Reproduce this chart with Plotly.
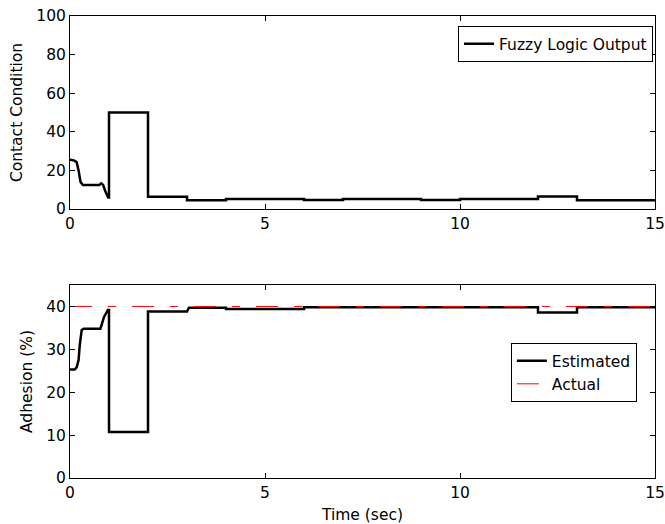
import plotly.graph_objects as go
from plotly.subplots import make_subplots

# Contact condition from the fuzzy logic block
t_fuzzy = [0, 0.1, 0.17, 0.22, 0.27, 0.33, 0.5, 0.75, 0.8, 0.85, 0.9, 0.95, 0.98, 1.0,
           1.0, 2.0, 2.0, 3.0, 3.0, 4.0, 4.0, 6.0, 6.0, 7.0, 7.0, 9.0, 9.0, 10.0,
           10.0, 12.0, 12.0, 13.0, 13.0, 15.0]
fuzzy_out = [25.5, 25.2, 24.3, 20.0, 14.0, 12.4, 12.4, 12.4, 13.3, 12.5, 9.5, 7.0, 6.0, 6.0,
             50.0, 50.0, 6.3, 6.3, 4.5, 4.5, 5.2, 5.2, 4.6, 4.6, 5.2, 5.2, 4.6, 4.6,
             5.2, 5.2, 6.5, 6.5, 4.5, 4.5]

# Adhesion: estimated vs actual
t_est = [0, 0.12, 0.17, 0.22, 0.25, 0.28, 0.3, 0.35, 0.5, 0.78, 0.82, 0.87, 0.92, 0.97, 1.0,
         1.0, 2.0, 2.0, 3.0, 3.05, 4.0, 4.0, 6.0, 6.0, 12.0, 12.0, 13.0, 13.0, 15.0]
adh_est = [25.3, 25.3, 25.8, 27.5, 31.0, 33.0, 34.5, 34.8, 34.8, 34.8, 36.0, 37.5, 38.3, 39.2, 39.2,
           10.7, 10.7, 38.8, 38.8, 39.7, 39.7, 39.4, 39.4, 39.8, 39.8, 38.6, 38.6, 39.8, 39.8]
t_act = [0, 15]
adh_act = [40, 40]

x_ticks = [0, 5, 10, 15]
top_ticks = [0, 20, 40, 60, 80, 100]
bot_ticks = [0, 10, 20, 30, 40]

FONT = "DejaVu Sans, Arial, sans-serif"
FS = 15.5
txt = dict(family=FONT, size=FS, color="black")

fig = make_subplots(rows=2, cols=1, vertical_spacing=0.1645)

fig.add_trace(go.Scatter(x=t_fuzzy, y=fuzzy_out, mode="lines", name="Fuzzy Logic Output",
                         line=dict(color="black", width=2.5), legend="legend", showlegend=True),
              row=1, col=1)
fig.add_trace(go.Scatter(x=t_est, y=adh_est, mode="lines", name="Estimated",
                         line=dict(color="black", width=2.5), legend="legend2"),
              row=2, col=1)
fig.add_trace(go.Scatter(x=t_act, y=adh_act, mode="lines", name="Actual",
                         line=dict(color="#ff0000", width=1, dash="22px,16px,8px,16px"),
                         legend="legend2"),
              row=2, col=1)

axis_common = dict(showline=True, linecolor="black", linewidth=1, mirror="ticks",
                   ticks="inside", ticklen=5, tickcolor="black", showgrid=False,
                   zeroline=False, tickfont=txt, automargin=False)

fig.update_xaxes(range=[0, 15], tickvals=x_ticks, **axis_common)
fig.update_xaxes(title=dict(text="Time (sec)", font=txt, standoff=9), row=2, col=1)
fig.update_yaxes(range=[0, 100], tickvals=top_ticks, row=1, col=1,
                 title=dict(text="Contact Condition", font=txt, standoff=9), **axis_common)
fig.update_yaxes(range=[0, 45], tickvals=bot_ticks, row=2, col=1,
                 title=dict(text="Adhesion (%)", font=txt, standoff=9), **axis_common)

legend_style = dict(bgcolor="white", bordercolor="black", borderwidth=1,
                    font=txt, tracegroupgap=0)
fig.update_layout(
    width=665, height=524,
    margin=dict(l=70, r=10, t=16, b=46),
    plot_bgcolor="white", paper_bgcolor="white",
    showlegend=True,
    legend=dict(x=0.9966, y=0.978, xanchor="right", yanchor="top", **legend_style),
    legend2=dict(x=0.969, y=0.292, xanchor="right", yanchor="top", **legend_style),
)

fig.write_html("out.html")
